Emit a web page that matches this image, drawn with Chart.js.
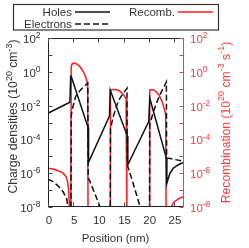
<!DOCTYPE html>
<html><head><meta charset="utf-8">
<script src="https://cdn.jsdelivr.net/npm/chart.js@4"></script>
<style>html,body{margin:0;padding:0;background:#fff;}#c{display:block;}</style>
</head><body>
<canvas id="c" width="249" height="248"></canvas>
<script>
// ---- data (x in nm, values given as log10 of the quantity) ----
const xTicks = [0, 5, 10, 15, 20, 25];
const yTickExps = [2, 0, -2, -4, -6, -8];
const yMinorExps = [2, 1, 0, -1, -2, -3, -4, -5, -6, -7, -8];

const holesX   = [0, 4.35, 4.5, 4.6, 7.95, 8.05, 12.2, 12.35, 15.75, 15.85, 20.0, 20.2, 23.5, 23.6, 24.2, 24.9, 25.9, 27];
const holesLog = [-2.45, -1.8, -0.27, -0.27, -3.3, -5.35, -2.62, -1.08, -3.8, -5.5, -2.95, -1.55, -5.1, -6.6, -6.0, -5.7, -5.5, -5.35];

const elecX   = [0, 1, 2, 3, 3.7, 4.25, 4.55, 4.6, 4.8, 5.5, 6.5, 7.9, 7.98, 8.2, 9.3, 10.45, 12.35, 12.4, 13, 14, 15, 15.68, 15.72, 15.85, 17, 18.4, 20.15, 20.2, 21, 22, 23, 23.5, 23.55, 24.5, 27];
const elecLog = [-6.35, -6.5, -6.75, -7.1, -7.5, -8.5, -8.5, -2.64, -2.24, -1.45, -1.06, -0.66, -6.3, -6.4, -7.2, -8.1, -8.5, -3.35, -2.6, -1.7, -1.25, -0.98, -5.5, -5.6, -6.7, -8.1, -8.5, -3.1, -2.3, -1.5, -0.9, -0.6, -5.1, -5.15, -5.3];

const recX   = [0, 1, 2, 3, 3.6, 3.9, 4.1, 4.2, 4.28, 4.55, 4.6, 4.8, 5.2, 5.8, 6.5, 7.2, 7.7, 7.88, 7.95, 12.35, 12.4, 12.7, 13.5, 14.3, 15.0, 15.5, 15.62, 15.68, 20.15, 20.2, 20.5, 21.2, 22.0, 22.7, 23.2, 23.38, 23.45, 24.3, 24.45, 25, 26, 27];
const recLog = [-5.7, -5.75, -5.85, -6.0, -6.2, -6.5, -7.0, -7.6, -8.5, -8.5, 0.3, 0.48, 0.52, 0.45, 0.25, -0.1, -0.5, -0.8, -8.5, -8.5, -1.1, -1.05, -1.05, -1.15, -1.35, -1.6, -1.8, -8.5, -8.5, -1.1, -1.05, -1.1, -1.35, -1.8, -2.3, -2.6, -8.5, -8.5, -8.0, -7.7, -7.5, -7.38];

const toPts = (xs, ls) => xs.map((x, i) => ({x: x, y: Math.pow(10, ls[i])}));

const FONT = '"Liberation Sans", Arial, sans-serif';
const BASE = 11.5, SUP = 8.5;
const TBASE = 12.2, TSUP = 9;
const TXT = '#333', RED = '#ff1a1a', REDTXT = '#ff3b3b';

function segWidth(ctx, segs, b, s) {
  let w = 0;
  for (const g of segs) { ctx.font = (g.sup ? s : b) + 'px ' + FONT; w += ctx.measureText(g.t).width; }
  return w;
}
function drawSegs(ctx, segs, x, y, b, s) {
  let cx = x;
  for (const g of segs) {
    ctx.font = (g.sup ? s : b) + 'px ' + FONT;
    ctx.fillText(g.t, cx, g.sup ? y - b * 0.42 : y);
    cx += ctx.measureText(g.t).width;
  }
}
function powSegs(e) { return [{t: '10'}, {t: String(e), sup: true}]; }

const decor = {
  id: 'decor',
  afterDraw(chart) {
    const ctx = chart.ctx, a = chart.chartArea;
    const xs = chart.scales.x, ys = chart.scales.y;
    ctx.save();
    ctx.textBaseline = 'alphabetic';
    ctx.lineWidth = 1;
    ctx.strokeStyle = '#222';
    const L = Math.round(a.left) + 0.5, R = Math.round(a.right) - 0.5, T = Math.round(a.top) + 0.5, B = Math.round(a.bottom) - 0.5;
    ctx.beginPath(); ctx.moveTo(R, T); ctx.lineTo(L, T); ctx.lineTo(L, B); ctx.lineTo(R, B); ctx.stroke();
    ctx.strokeStyle = '#c85050';
    ctx.beginPath(); ctx.moveTo(R, T); ctx.lineTo(R, B); ctx.stroke();
    for (const e of yMinorExps) {
      const py = Math.round(ys.getPixelForValue(Math.pow(10, e))) + 0.5;
      ctx.strokeStyle = '#444';
      ctx.beginPath(); ctx.moveTo(L, py); ctx.lineTo(L + 4, py); ctx.stroke();
      ctx.strokeStyle = '#c85050';
      ctx.beginPath(); ctx.moveTo(R, py); ctx.lineTo(R - 4, py); ctx.stroke();
    }
    ctx.strokeStyle = '#444';
    for (const v of xTicks) {
      const px = Math.round(xs.getPixelForValue(v)) + 0.5;
      ctx.beginPath(); ctx.moveTo(px, T); ctx.lineTo(px, T + 4); ctx.moveTo(px, B); ctx.lineTo(px, B - 4); ctx.stroke();
    }
    for (const e of yTickExps) {
      const py = ys.getPixelForValue(Math.pow(10, e));
      const segs = powSegs(e);
      ctx.fillStyle = TXT;
      const w = segWidth(ctx, segs, BASE, SUP);
      drawSegs(ctx, segs, 40.5 - w, py + 5, BASE, SUP);
      ctx.fillStyle = REDTXT;
      drawSegs(ctx, segs, 190, py + 5, BASE, SUP);
    }
    ctx.fillStyle = TXT;
    ctx.font = BASE + 'px ' + FONT;
    ctx.textAlign = 'center';
    for (const v of xTicks) {
      ctx.fillText(String(v), xs.getPixelForValue(v) + 1, 223.5);
    }
    ctx.fillText('Position (nm)', 115.5, 242);
    ctx.textAlign = 'left';
    const lt = [{t: 'Charge densities (10'}, {t: '20', sup: true}, {t: ' cm'}, {t: '-3', sup: true}, {t: ')'}];
    ctx.save();
    ctx.translate(17, 116.5);
    ctx.rotate(-Math.PI / 2);
    const wl = segWidth(ctx, lt, TBASE, TSUP);
    ctx.fillStyle = TXT;
    drawSegs(ctx, lt, -wl / 2, 0, TBASE, TSUP);
    ctx.restore();
    const rt = [{t: 'Recombination (10'}, {t: '20', sup: true}, {t: ' cm'}, {t: '-3', sup: true}, {t: ' s'}, {t: '-1', sup: true}, {t: ')'}];
    ctx.save();
    ctx.translate(229.5, 122.5);
    ctx.rotate(-Math.PI / 2);
    const wr = segWidth(ctx, rt, TBASE, TSUP);
    ctx.fillStyle = REDTXT;
    drawSegs(ctx, rt, -wr / 2, 0, TBASE, TSUP);
    ctx.restore();
    ctx.strokeStyle = '#333';
    ctx.lineWidth = 1.2;
    ctx.strokeRect(13.5, 4.5, 205, 25.5);
    ctx.font = BASE + 'px ' + FONT;
    ctx.fillStyle = TXT;
    ctx.textAlign = 'right';
    ctx.fillText('Holes', 72, 16);
    ctx.fillText('Electrons', 72, 28);
    ctx.fillText('Recomb.', 175, 16);
    ctx.lineWidth = 1.5;
    ctx.strokeStyle = '#111';
    ctx.beginPath(); ctx.moveTo(75, 12); ctx.lineTo(110, 12); ctx.stroke();
    ctx.setLineDash([6, 3]);
    ctx.beginPath(); ctx.moveTo(75, 24); ctx.lineTo(110, 24); ctx.stroke();
    ctx.setLineDash([]);
    ctx.strokeStyle = RED;
    ctx.beginPath(); ctx.moveTo(178, 12); ctx.lineTo(213, 12); ctx.stroke();
    ctx.restore();
  }
};

new Chart(document.getElementById('c'), {
  type: 'line',
  data: {
    datasets: [
      {label: 'Holes', data: toPts(holesX, holesLog), borderColor: '#111', borderWidth: 1.5, pointRadius: 0, tension: 0, yAxisID: 'y'},
      {label: 'Electrons', data: toPts(elecX, elecLog), borderColor: '#111', borderWidth: 1.5, borderDash: [6, 3], pointRadius: 0, tension: 0, yAxisID: 'y'},
      {label: 'Recomb.', data: toPts(recX, recLog), borderColor: RED, borderWidth: 1.5, pointRadius: 0, tension: 0, yAxisID: 'y2'}
    ]
  },
  options: {
    responsive: false, animation: false, devicePixelRatio: 1,
    layout: {padding: {left: 48, right: 65, top: 38, bottom: 41}},
    scales: {
      x: {type: 'linear', min: 0, max: 27, display: false},
      y: {type: 'logarithmic', min: 1e-8, max: 1e2, display: false},
      y2: {type: 'logarithmic', min: 1e-8, max: 1e2, display: false, position: 'right'}
    },
    plugins: {legend: {display: false}, tooltip: {enabled: false}}
  },
  plugins: [decor]
});
</script>
</body></html>
